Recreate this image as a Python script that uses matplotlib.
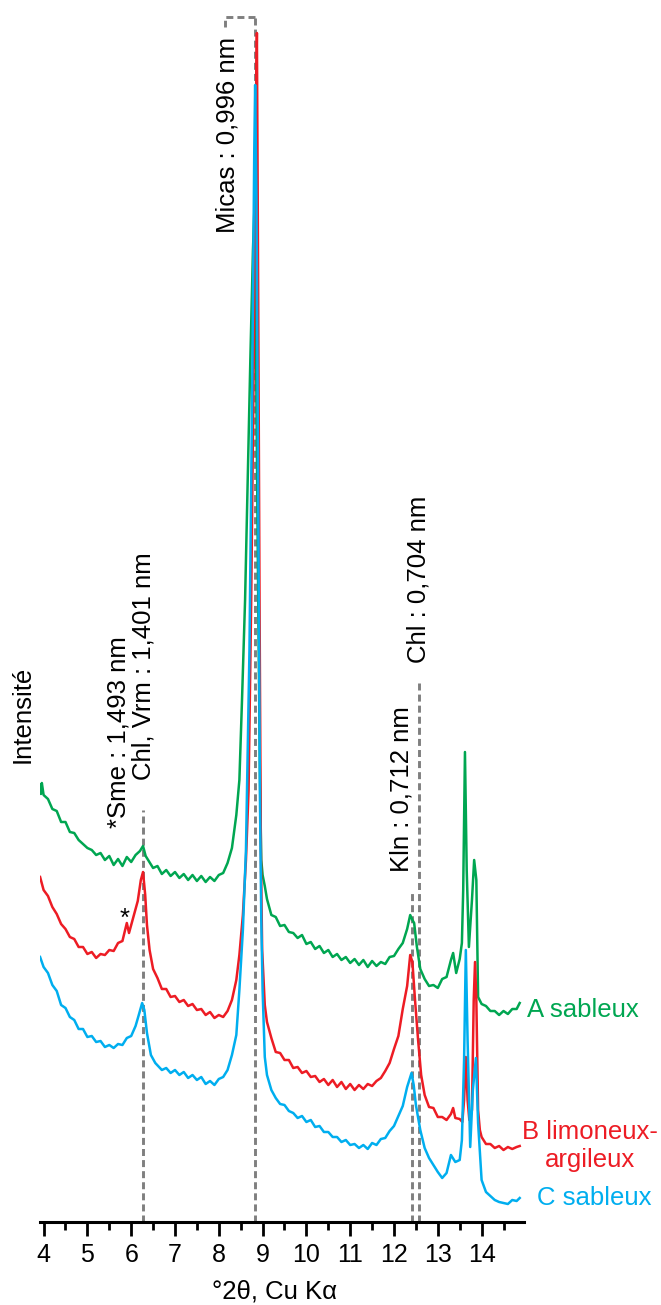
import matplotlib
matplotlib.use("Agg")
import matplotlib.pyplot as plt

plt.rcParams['font.family'] = ['Liberation Sans', 'DejaVu Sans']

# degrees 2theta / intensity (arbitrary units)
x_a = [3.92, 3.94, 3.96, 4.0, 4.1, 4.2, 4.3, 4.4, 4.5, 4.6, 4.7, 4.8, 4.9, 5.0, 5.1, 5.2, 5.3,
       5.4, 5.5, 5.6, 5.7, 5.8, 5.9, 6.0, 6.1, 6.2, 6.27, 6.33, 6.4, 6.5, 6.6, 6.7, 6.8, 6.9,
       7.0, 7.1, 7.2, 7.3, 7.4, 7.5, 7.6, 7.7, 7.8, 7.9, 8.0, 8.1, 8.2, 8.3, 8.4, 8.47, 8.53,
       8.6, 8.66, 8.72, 8.78, 8.82, 8.86, 8.9, 8.94, 8.97, 9.0, 9.05, 9.1, 9.2, 9.3, 9.4, 9.5,
       9.6, 9.7, 9.8, 9.9, 10.0, 10.1, 10.2, 10.3, 10.4, 10.5, 10.6, 10.7, 10.8, 10.9, 11.0,
       11.1, 11.2, 11.3, 11.4, 11.5, 11.6, 11.7, 11.8, 11.9, 12.0, 12.1, 12.2, 12.3, 12.37,
       12.42, 12.46, 12.52, 12.6, 12.7, 12.8, 12.9, 13.0, 13.1, 13.2, 13.3, 13.35, 13.42, 13.5,
       13.55, 13.58, 13.62, 13.66, 13.71, 13.78, 13.83, 13.88, 13.92, 14.0, 14.1, 14.2, 14.3,
       14.4, 14.5, 14.6, 14.7, 14.8, 14.87]
y_a = [450, 441, 452, 440, 436, 426, 424, 413, 413, 403, 402, 395, 391, 387, 385, 380, 382,
       375, 379, 370, 376, 369, 378, 373, 380, 384, 389, 379, 374, 367, 369, 361, 365, 359,
       363, 357, 361, 355, 360, 354, 359, 353, 358, 354, 360, 362, 372, 387, 420, 455, 535,
       635, 755, 875, 985, 1035, 835, 635, 455, 375, 360, 349, 336, 320, 318, 309, 310, 303,
       302, 297, 300, 291, 293, 286, 289, 282, 285, 278, 281, 275, 278, 272, 276, 270, 275,
       268, 274, 269, 273, 271, 278, 279, 286, 292, 306, 320, 315, 312, 289, 266, 256, 249,
       250, 247, 256, 258, 275, 282, 262, 276, 292, 345, 483, 365, 288, 335, 375, 355, 238,
       231, 229, 224, 224, 220, 224, 221, 226, 226, 232]

x_b = [3.92, 4.0, 4.1, 4.2, 4.3, 4.4, 4.5, 4.6, 4.7, 4.8, 4.9, 5.0, 5.1, 5.2, 5.3, 5.4, 5.5,
       5.6, 5.7, 5.8, 5.9, 5.95, 6.05, 6.15, 6.22, 6.27, 6.32, 6.36, 6.42, 6.5, 6.6, 6.7, 6.8,
       6.9, 7.0, 7.1, 7.2, 7.3, 7.4, 7.5, 7.6, 7.7, 7.8, 7.9, 8.0, 8.1, 8.2, 8.3, 8.4, 8.47,
       8.55, 8.62, 8.68, 8.74, 8.8, 8.85, 8.87, 8.9, 8.93, 8.96, 8.99, 9.05, 9.1, 9.2, 9.3,
       9.4, 9.5, 9.6, 9.7, 9.8, 9.9, 10.0, 10.1, 10.2, 10.3, 10.4, 10.5, 10.6, 10.7, 10.8,
       10.9, 11.0, 11.1, 11.2, 11.3, 11.4, 11.5, 11.6, 11.7, 11.8, 11.9, 12.0, 12.1, 12.2,
       12.3, 12.37, 12.42, 12.48, 12.55, 12.62, 12.7, 12.8, 12.9, 13.0, 13.1, 13.2, 13.3,
       13.35, 13.4, 13.5, 13.56, 13.6, 13.64, 13.68, 13.72, 13.78, 13.82, 13.85, 13.88, 13.92,
       13.96, 14.0, 14.1, 14.2, 14.3, 14.4, 14.5, 14.6, 14.7, 14.8, 14.87]
y_b = [358, 345, 339, 328, 321, 311, 306, 298, 296, 288, 288, 281, 283, 277, 281, 280, 285,
       284, 292, 294, 312, 302, 318, 334, 355, 363, 340, 310, 285, 266, 257, 246, 246, 238,
       239, 233, 235, 229, 231, 225, 226, 220, 223, 217, 220, 218, 224, 235, 255, 280, 320,
       375, 445, 635, 885, 1135, 1202, 935, 635, 385, 285, 230, 213, 197, 183, 182, 175, 175,
       167, 168, 162, 164, 158, 159, 153, 156, 150, 155, 148, 153, 146, 151, 145, 150, 146,
       151, 149, 154, 157, 164, 172, 186, 199, 226, 249, 280, 273, 235, 195, 160, 140, 128,
       127, 118, 118, 115, 121, 127, 117, 116, 113, 135, 178, 135, 115, 125, 235, 273, 235,
       125, 105, 98, 91, 91, 87, 89, 85, 88, 86, 88, 89]

x_c = [3.92, 4.0, 4.1, 4.2, 4.3, 4.4, 4.5, 4.6, 4.7, 4.8, 4.9, 5.0, 5.1, 5.2, 5.3, 5.4, 5.5,
       5.6, 5.7, 5.8, 5.9, 6.0, 6.1, 6.16, 6.25, 6.3, 6.36, 6.45, 6.55, 6.7, 6.8, 6.9, 7.0,
       7.1, 7.2, 7.3, 7.4, 7.5, 7.6, 7.7, 7.8, 7.9, 8.0, 8.1, 8.2, 8.3, 8.4, 8.47, 8.55, 8.62,
       8.7, 8.76, 8.81, 8.83, 8.86, 8.9, 8.94, 8.97, 9.0, 9.05, 9.1, 9.2, 9.3, 9.4, 9.5, 9.6,
       9.7, 9.8, 9.9, 10.0, 10.1, 10.2, 10.3, 10.4, 10.5, 10.6, 10.7, 10.8, 10.9, 11.0, 11.1,
       11.2, 11.3, 11.4, 11.5, 11.6, 11.7, 11.8, 11.9, 12.0, 12.1, 12.2, 12.3, 12.4, 12.45,
       12.5, 12.6, 12.7, 12.8, 12.9, 13.0, 13.1, 13.2, 13.3, 13.4, 13.5, 13.55, 13.6, 13.64,
       13.68, 13.74, 13.8, 13.87, 13.92, 14.0, 14.1, 14.2, 14.3, 14.4, 14.5, 14.6, 14.7, 14.8,
       14.87]
y_c = [278, 268, 262, 250, 244, 230, 227, 218, 215, 206, 206, 198, 199, 193, 194, 188, 190,
       187, 191, 190, 197, 199, 209, 218, 232, 225, 202, 180, 172, 165, 167, 162, 165, 160,
       163, 157, 160, 155, 158, 151, 154, 150, 156, 158, 165, 180, 200, 245, 305, 385, 585,
       835, 1085, 1150, 1035, 735, 435, 315, 245, 178, 160, 145, 137, 131, 130, 124, 122, 117,
       119, 113, 115, 108, 109, 103, 103, 98, 98, 93, 95, 90, 91, 87, 90, 86, 92, 90, 96, 97,
       104, 109, 119, 129, 148, 162, 150, 130, 105, 87, 77, 70, 63, 57, 62, 80, 73, 75, 95,
       175, 285, 195, 88, 145, 177, 112, 55, 43, 39, 35, 33, 32, 31, 35, 34, 37]

# dashed reference lines: position, top of the dashed segment
ref_x = [6.27, 8.83, 12.41, 12.58]
ref_top = [425, 1218, 345, 555]

green = '#00A651'
red = '#ED1C24'
blue = '#00AEEF'
grey = '#7f7f7f'

fig = plt.figure(figsize=(6.61, 13.05), dpi=100)
ax = fig.add_axes([40 / 661, 83 / 1305, 484 / 661, 1222 / 1305])

for xr, yt in zip(ref_x, ref_top):
    ax.plot([xr, xr], [13, yt], color=grey, lw=2.1, dashes=(2.4, 1.4), zorder=1)
# little bracket on top of the micas line
ax.plot([8.83, 8.14, 8.14], [1218, 1218, 1208], color=grey, lw=2.1, dashes=(2.4, 1.4),
        zorder=1)

ax.plot(x_a, y_a, color=green, lw=1.8, zorder=2)
ax.plot(x_b, y_b, color=red, lw=1.8, zorder=3)
ax.plot(x_c, y_c, color=blue, lw=1.8, zorder=4)

ax.set_xlim(3.918, 14.968)
ax.set_ylim(13, 1235)
ax.set_xticks(range(4, 15))
ax.set_xticks([v + 0.5 for v in range(4, 15)], minor=True)
ax.tick_params(axis='x', which='major', direction='out', length=10, width=2,
               labelsize=18, pad=5)
ax.tick_params(axis='x', which='minor', direction='out', length=5.5, width=2)
ax.set_yticks([])
for s in ['left', 'right', 'top']:
    ax.spines[s].set_visible(False)
ax.spines['bottom'].set_linewidth(2.2)

fs = 18.5
fig.text(275 / 661, 1 - 1292 / 1305, '°2θ, Cu Kα', ha='center', va='center', fontsize=fs)

ax.text(3.53, 472, 'Intensité', rotation=90, ha='center', va='bottom', fontsize=fs)
ax.text(5.70, 407, '*Sme : 1,493 nm', rotation=90, ha='center', va='bottom', fontsize=fs)
ax.text(6.29, 455, 'Chl, Vrm : 1,401 nm', rotation=90, ha='center', va='bottom', fontsize=fs)
ax.text(8.21, 1002, 'Micas : 0,996 nm', rotation=90, ha='center', va='bottom', fontsize=fs)
ax.text(12.18, 363, 'Kln : 0,712 nm', rotation=90, ha='center', va='bottom', fontsize=fs)
ax.text(12.55, 572, 'Chl : 0,704 nm', rotation=90, ha='center', va='bottom', fontsize=fs)
ax.text(5.86, 316, '*', ha='center', va='center', fontsize=fs)

ax.text(15.04, 225, 'A sableux', color=green, ha='left', va='center', fontsize=fs)
ax.text(16.48, 89, 'B limoneux-\nargileux', color=red, ha='center', va='center',
        multialignment='center', linespacing=1.25, fontsize=fs)
ax.text(15.27, 37, 'C sableux', color=blue, ha='left', va='center', fontsize=fs)

fig.savefig('out.png', dpi=100)
